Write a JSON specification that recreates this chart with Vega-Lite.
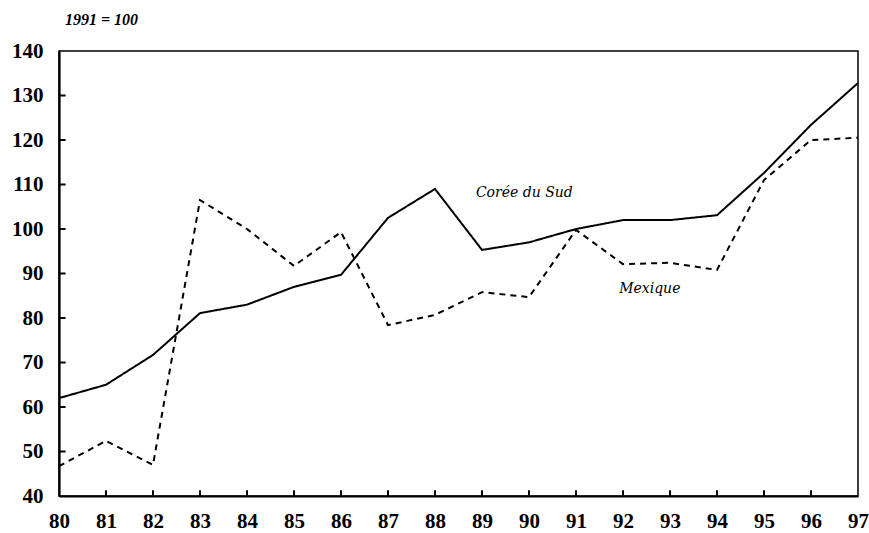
{
  "$schema": "https://vega.github.io/schema/vega-lite/v6.json",
  "width": 799,
  "height": 445,
  "autosize": {"type": "none"},
  "padding": {"left": 59, "top": 51, "right": 11, "bottom": 37},
  "background": "white",
  "config": {
    "view": {"stroke": "black", "strokeWidth": 1.5},
    "font": "Liberation Serif"
  },
  "title": {
    "text": "1991 = 100",
    "anchor": "start",
    "frame": "group",
    "dx": 6,
    "offset": 12,
    "font": "Liberation Serif",
    "fontSize": 16,
    "fontStyle": "italic",
    "fontWeight": "bold",
    "color": "black"
  },
  "datasets": {
    "series": [
      {"year": 80, "country": "Corée du Sud", "value": 62},
      {"year": 81, "country": "Corée du Sud", "value": 65},
      {"year": 82, "country": "Corée du Sud", "value": 71.7},
      {"year": 83, "country": "Corée du Sud", "value": 81.1},
      {"year": 84, "country": "Corée du Sud", "value": 83},
      {"year": 85, "country": "Corée du Sud", "value": 87},
      {"year": 86, "country": "Corée du Sud", "value": 89.7},
      {"year": 87, "country": "Corée du Sud", "value": 102.5},
      {"year": 88, "country": "Corée du Sud", "value": 109},
      {"year": 89, "country": "Corée du Sud", "value": 95.3},
      {"year": 90, "country": "Corée du Sud", "value": 97},
      {"year": 91, "country": "Corée du Sud", "value": 100},
      {"year": 92, "country": "Corée du Sud", "value": 102},
      {"year": 93, "country": "Corée du Sud", "value": 102},
      {"year": 94, "country": "Corée du Sud", "value": 103.1},
      {"year": 95, "country": "Corée du Sud", "value": 112.6},
      {"year": 96, "country": "Corée du Sud", "value": 123.4},
      {"year": 97, "country": "Corée du Sud", "value": 132.8},
      {"year": 80, "country": "Mexique", "value": 46.7},
      {"year": 81, "country": "Mexique", "value": 52.4},
      {"year": 82, "country": "Mexique", "value": 47},
      {"year": 83, "country": "Mexique", "value": 106.5},
      {"year": 84, "country": "Mexique", "value": 100},
      {"year": 85, "country": "Mexique", "value": 91.7},
      {"year": 86, "country": "Mexique", "value": 99.3},
      {"year": 87, "country": "Mexique", "value": 78.4},
      {"year": 88, "country": "Mexique", "value": 80.7},
      {"year": 89, "country": "Mexique", "value": 85.8},
      {"year": 90, "country": "Mexique", "value": 84.7},
      {"year": 91, "country": "Mexique", "value": 99.8},
      {"year": 92, "country": "Mexique", "value": 92.1},
      {"year": 93, "country": "Mexique", "value": 92.4},
      {"year": 94, "country": "Mexique", "value": 90.8},
      {"year": 95, "country": "Mexique", "value": 111},
      {"year": 96, "country": "Mexique", "value": 120},
      {"year": 97, "country": "Mexique", "value": 120.5}
    ],
    "labels": [
      {"year": 89.9, "value": 108.1, "label": "Corée du Sud"},
      {"year": 92.57, "value": 86.5, "label": "Mexique"}
    ],
    "xticks": [
      {"year": 81}, {"year": 82}, {"year": 83}, {"year": 84}, {"year": 85}, {"year": 86},
      {"year": 87}, {"year": 88}, {"year": 89}, {"year": 90}, {"year": 91}, {"year": 92},
      {"year": 93}, {"year": 94}, {"year": 95}, {"year": 96}
    ],
    "yticks": [
      {"value": 50}, {"value": 60}, {"value": 70}, {"value": 80}, {"value": 90},
      {"value": 100}, {"value": 110}, {"value": 120}, {"value": 130}
    ]
  },
  "layer": [
    {
      "data": {"name": "series"},
      "mark": {"type": "line", "color": "black", "strokeWidth": 2},
      "encoding": {
        "x": {
          "field": "year",
          "type": "quantitative",
          "scale": {"domain": [80, 97], "nice": false, "zero": false},
          "axis": {
            "title": null,
            "values": [80,81,82,83,84,85,86,87,88,89,90,91,92,93,94,95,96,97],
            "grid": false,
            "ticks": false,
            "domainColor": "black",
            "domainWidth": 2.2,
            "labelPadding": 14,
            "labelFont": "Liberation Serif",
            "labelFontSize": 21,
            "labelFontWeight": "bold",
            "labelColor": "black",
            "labelFlush": false
          }
        },
        "y": {
          "field": "value",
          "type": "quantitative",
          "scale": {"domain": [40, 140], "nice": false, "zero": false},
          "axis": {
            "title": null,
            "values": [40,50,60,70,80,90,100,110,120,130,140],
            "grid": false,
            "ticks": false,
            "domainColor": "black",
            "domainWidth": 2.2,
            "labelPadding": 16,
            "labelFont": "Liberation Serif",
            "labelFontSize": 21,
            "labelFontWeight": "bold",
            "labelColor": "black",
            "labelFlush": false
          }
        },
        "strokeDash": {
          "field": "country",
          "type": "nominal",
          "scale": {"domain": ["Corée du Sud", "Mexique"], "range": [[1, 0], [6, 5]]},
          "legend": null
        }
      }
    },
    {
      "data": {"name": "xticks"},
      "mark": {"type": "rule", "color": "black", "strokeWidth": 2},
      "encoding": {
        "x": {"field": "year", "type": "quantitative"},
        "y": {"datum": 40},
        "y2": {"datum": 41.3}
      }
    },
    {
      "data": {"name": "yticks"},
      "mark": {"type": "rule", "color": "black", "strokeWidth": 2},
      "encoding": {
        "y": {"field": "value", "type": "quantitative"},
        "x": {"datum": 80},
        "x2": {"datum": 80.14}
      }
    },
    {
      "data": {"name": "labels"},
      "mark": {"type": "text", "font": "DejaVu Serif", "fontSize": 14, "fontStyle": "italic", "color": "black", "align": "center", "baseline": "middle"},
      "encoding": {
        "x": {"field": "year", "type": "quantitative"},
        "y": {"field": "value", "type": "quantitative"},
        "text": {"field": "label"}
      }
    }
  ]
}
